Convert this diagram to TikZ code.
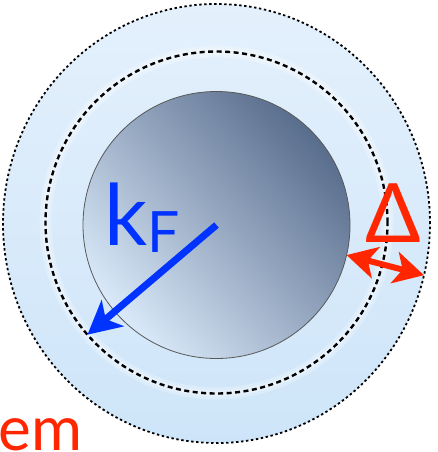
\documentclass[tikz,border=0pt]{standalone}
\usepackage{fontspec}
\setmainfont{Lato}
\usepackage{xcolor}
\usetikzlibrary{arrows.meta, positioning, shapes.geometric}
\definecolor{shelltop}{RGB}{228, 240, 252}
\definecolor{shellbottom}{RGB}{206, 229, 249}
\definecolor{seadark}{RGB}{88, 108, 140}
\definecolor{sealight}{RGB}{218, 234, 250}
\definecolor{kblue}{RGB}{0, 51, 255}
\definecolor{gapred}{RGB}{255, 38, 0}

\begin{document}
\begin{tikzpicture}[x=1pt, y=-1pt]
    % Styles
    \tikzstyle{shell} = [ellipse, draw=black, line width=1.8pt, dash pattern=on 2.4pt off 2.6pt, inner sep=0pt, outer sep=0pt, top color=shelltop, bottom color=shellbottom]
    \tikzstyle{fermi} = [circle, draw=black, line width=2.4pt, dash pattern=on 5pt off 3.5pt, inner sep=0pt, outer sep=0pt, minimum size=342pt]
    \tikzstyle{sea} = [circle, draw=black!65, line width=0.8pt, inner sep=0pt, outer sep=0pt, minimum size=267pt, shading=axis, top color=seadark, bottom color=sealight, shading angle=-48]
    \tikzstyle{kvec} = [line width=7pt, -{Stealth[length=33pt, width=34pt, inset=9pt]}, kblue]
    \tikzstyle{gaparrow} = [line width=6pt, {Stealth[length=30pt, width=32pt, inset=8pt]}-{Stealth[length=30pt, width=32pt, inset=8pt]}, gapred]
    \tikzstyle{label} = [inner sep=0pt, outer sep=0pt]

    \useasboundingbox (0,0) rectangle (438,452);
    \clip (0,0) rectangle (438,452);

    % Nodes
    \node [shell, minimum width=427pt, minimum height=439pt] (outer) at (216.5,223.5) {};
    \draw [white, opacity=0.25, line width=12pt] (216.5,222.5) circle [radius=171pt];
    \draw [white, opacity=0.3, line width=6pt] (216.5,222.5) circle [radius=171pt];
    \node [fermi] (surface) at (216.5,222.5) {};
    \node [sea] (disk) at (216.5,225) {};

    \node [label, anchor=base west, text=kblue] (kf) at (104,245)
        {\fontsize{85}{85}\selectfont k\raisebox{-7pt}{\fontsize{57}{57}\selectfont F}};
    \node [label, anchor=base, text=gapred] (delta) at (393,242) {\fontsize{82}{82}\selectfont Δ};
    \node [label, anchor=base east, text=gapred] (em) at (82,450) {\fontsize{62}{62}\selectfont em};

    % Arrows
    \draw [kvec] (disk.center) -- (surface.221);
    \draw [gaparrow] (disk.-13.6) -- (outer.-14.5);
\end{tikzpicture}
\end{document}
